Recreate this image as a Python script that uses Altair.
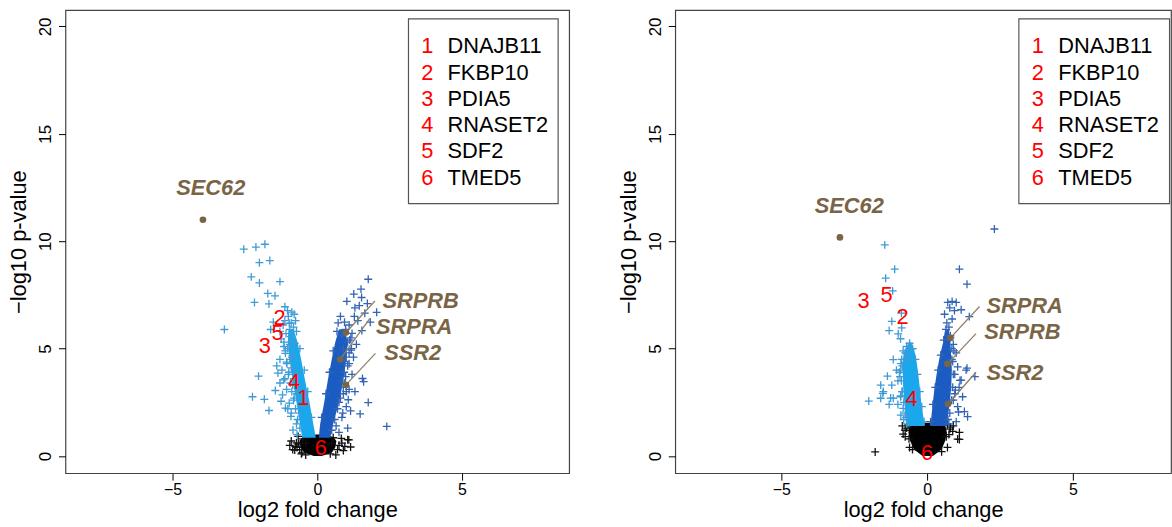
import altair as alt
import pandas as pd

# ------------------------------------------------------------------ data
legend_nums = ["1", "2", "3", "4", "5", "6"]
legend_genes = ["DNAJB11", "FKBP10", "PDIA5", "RNASET2", "SDF2", "TMED5"]

# ---------------- left panel
L_light_x = [-2.54, -2.12, -1.81, -2.0, -1.64, -2.28, -2.0, -1.29, -1.71, -1.46, -2.17, -1.67, -1.12, -1.03,
             -3.21, -1.52, -1.61, -2.03, -2.24, -1.83, -1.67,
             -0.97, -1.29, -0.91, -1.25, -0.78, -1.1, -1.29, -1.06, -0.86, -1.36, -1.16, -1.29, -1.06, -1.2,
             -0.97, -1.1, -0.91, -0.84, -0.72, -1.0, -0.95, -1.15, -0.9, -1.0, -0.85, -0.9, -0.8, -1.02, -0.82,
             -1.12, -0.88, -1.4, -1.45, -1.25, -0.7, -0.75, -0.95,
             -0.6, -0.68, -0.75, -0.82, -0.88, -0.93, -0.98, -1.05, -1.1, -1.15, -1.08, -1.18, -0.62, -0.7,
             -0.8, -0.88, -0.95, -0.9, -1.22, -1.02, -1.12,
             -0.2, -0.33, -0.45, -0.6, -0.72, -0.75, -0.8]
L_light_y = [9.63, 9.73, 9.86, 9.0, 9.1, 8.34, 8.06, 8.12, 7.57, 7.46, 7.15, 7.08, 6.95, 6.77,
             5.89, 6.23, 5.89, 3.72, 2.76, 2.64, 2.12,
             6.18, 5.8, 5.56, 5.45, 5.25, 4.78, 4.5, 4.37, 4.7, 3.86, 3.55, 3.4, 3.1, 2.85,
             2.46, 2.23, 1.85, 1.21, 1.5, 6.5, 5.9, 5.1, 4.1, 3.8, 3.3, 2.0, 2.7, 5.0, 6.0,
             6.3, 6.7, 4.2, 3.05, 2.55, 1.0, 3.9, 4.5,
             1.3, 1.7, 2.2, 2.6, 3.0, 3.4, 3.9, 4.3, 4.9, 5.3, 5.7, 6.1, 2.0, 2.9,
             3.6, 4.6, 5.2, 6.2, 4.0, 2.2, 3.6,
             1.8, 3.0, 4.0, 5.0, 5.8, 6.3, 6.6]
L_dark_x = [1.76, 1.51, 1.26, 1.53, 1.73, 1.45, 2.05, 1.83, 0.94, 1.54, 1.16, 1.64, 1.28, 1.2, 0.9, 1.17,
            1.56, 1.6, 1.76, 1.48, 2.4, 1.05, 1.07, 1.1, 0.93, 1.0, 1.3, 1.1, 0.85, 1.05, 1.1, 0.95, 1.2,
            0.9, 1.0, 0.85, 1.15, 0.75, 1.3, 1.25, 0.98, 1.4, 0.8, 1.02, 1.35,
            0.5, 0.6, 0.7, 0.8, 0.9, 0.98, 1.05, 1.1, 1.12, 0.65, 0.75, 0.85, 0.95, 1.18, 0.88, 1.0,
            0.15, 0.3, 0.42, 0.55, 0.68, 0.72]
L_dark_y = [8.23, 7.77, 7.54, 7.38, 7.1, 7.0, 6.69, 6.23, 6.23, 5.84, 5.5, 6.65, 6.5, 5.71, 5.0, 4.93,
            3.61, 3.46, 2.49, 1.96, 1.38, 1.3, 2.62, 3.1, 3.9, 4.6, 6.9, 6.1, 5.6, 5.3, 4.3, 3.4, 3.8,
            2.9, 2.3, 1.8, 2.1, 1.1, 3.0, 4.6, 5.9, 6.3, 6.5, 7.2, 5.2,
            1.2, 1.7, 2.2, 2.7, 3.2, 3.7, 4.2, 4.8, 5.4, 1.4, 2.5, 3.5, 4.4, 5.0, 2.0, 3.0,
            1.8, 2.9, 3.9, 4.9, 5.8, 6.2]
L_black_x = [-0.65, -0.78, -0.53, 0.83, 1.09, 1.15, 0.64, -0.66, -0.72, -0.61, -0.76, 1.05, -0.9, 0.75,
             -0.4, 0.45, -0.85, 0.9,
             -0.5, 0.55, -0.3, 0.3, -0.7, 0.7, -0.55, 0.5, -0.4, 0.85, 0.95, -0.95]
L_black_y = [0.56, 0.28, 0.15, 0.82, 0.75, 0.42, 0.05, 0.91, 0.61, 0.3, 0.45, 0.76, 0.7, 0.5,
             0.05, 0.1, 0.3, 0.25,
             0.8, 0.85, 0.95, 0.95, 0.4, 0.3, 0.1, 0.6, 0.6, 0.6, 0.45, 0.5]
# dense cores (outline of the solid bands)
L_black_core_y = [0.0, 0.15, 0.4, 0.7, 0.9, 1.0]
L_black_core_l = [-0.12, -0.45, -0.58, -0.62, -0.5, -0.05]
L_black_core_r = [0.15, 0.5, 0.62, 0.66, 0.55, 0.08]
L_light_core_y = [0.85, 1.5, 2.5, 3.5, 4.5, 5.3, 5.9]
L_light_core_l = [-0.52, -0.6, -0.72, -0.85, -0.95, -1.02, -1.0]
L_light_core_r = [-0.05, -0.14, -0.27, -0.42, -0.56, -0.68, -0.82]
L_dark_core_y = [0.85, 1.5, 2.5, 3.5, 4.5, 5.3, 5.9]
L_dark_core_l = [0.05, 0.1, 0.24, 0.36, 0.5, 0.62, 0.75]
L_dark_core_r = [0.45, 0.55, 0.75, 0.9, 1.0, 1.05, 0.95]
# highlighted genes
L_gene_names = ["SEC62", "SRPRB", "SRPRA", "SSR2"]
L_gene_x = [-3.95, 0.99, 0.79, 0.99]
L_gene_y = [11.0, 5.75, 4.5, 3.31]
L_lab_x = [-3.68, 2.25, 2.03, 2.31]
L_lab_y = [12.47, 7.22, 6.0, 4.78]
L_lead_x = [None, 1.99, 1.82, 2.01]
L_lead_y = [None, 7.22, 6.41, 4.78]
# numbered genes (red)
L_num = ["2", "5", "3", "4", "1", "6"]
L_num_x = [-1.3, -1.37, -1.81, -0.8, -0.48, 0.12]
L_num_y = [6.41, 5.71, 5.1, 3.46, 2.7, 0.36]

# ---------------- right panel
R_light_x = [-1.45, -1.11, -1.42, -1.18, -0.88, -1.21, -0.87, -1.3, -0.99, -0.91, -1.16, -1.36, -1.59,
             -1.21, -1.52, -2.0, -1.59, -1.16, -0.91, -0.82, -1.25, -1.5, -0.7, -0.6, -0.5, -0.75, -0.9,
             -0.95, -1.0, -0.85, -1.0, -0.9, -0.8, -1.05, -0.78, -0.65, -1.3,
             -0.7, -0.75, -0.8, -0.86, -0.88, -0.9, -0.87, -0.82, -0.72, -0.9, -0.93, -0.85,
             -0.1, -0.18, -0.25, -0.33, -0.4, -0.5]
R_light_y = [9.83, 8.7, 8.28, 7.69, 6.65, 6.27, 5.97, 5.84, 5.69, 5.46, 4.49, 3.72, 3.3,
             3.3, 2.92, 2.56, 2.69, 2.69, 2.76, 2.22, 2.7, 3.0, 5.1, 5.25, 5.0, 4.8, 4.3,
             3.9, 3.5, 3.0, 2.4, 1.9, 1.7, 4.0, 4.5, 4.6, 2.4,
             1.5, 2.0, 2.5, 3.0, 3.5, 4.0, 4.5, 4.9, 1.8, 2.8, 3.7, 4.2,
             1.6, 2.3, 3.0, 3.8, 4.5, 5.0]
R_dark_x = [2.31, 1.11, 1.37, 0.86, 0.71, 1.0, 1.17, 0.94, 0.86, 1.45, 1.64, 1.37, 1.13, 1.39, 1.08,
            1.05, 1.34, 1.17, 0.97, 1.22, 1.05, 1.28, 0.75, 0.65, 0.8, 0.6, 0.9, 1.0, 0.95, 0.9, 1.0,
            0.68, 0.85, 1.1, 0.78,
            0.75, 0.78, 0.84, 0.88, 0.9, 0.88, 0.85, 0.8, 0.72, 0.95, 0.92,
            0.12, 0.2, 0.28, 0.38, 0.47, 0.57]
R_dark_y = [10.57, 8.7, 8.0, 7.2, 7.15, 7.15, 6.81, 6.77, 6.38, 6.49, 3.7, 4.09, 3.52, 1.83, 2.05,
            4.15, 4.0, 3.53, 3.07, 2.76, 2.3, 2.07, 6.0, 5.9, 5.6, 6.6, 5.2, 4.8, 3.8, 2.6, 1.6,
            6.2, 4.5, 3.2, 6.9,
            1.5, 2.0, 2.6, 3.2, 3.8, 4.4, 5.0, 5.5, 1.7, 2.9, 4.9,
            1.6, 2.4, 3.2, 4.0, 4.7, 5.4]
R_black_x = [-0.82, -1.78, 0.88, 1.11, 1.05, 1.11, -0.7, -0.75, 0.8, 0.7, -0.6, 0.75,
             -0.65, 0.7, -0.75, 0.78, -0.5, 0.5, -0.62, 0.66, -0.4, 0.35, -0.85, 0.9]
R_black_y = [1.02, 0.19, 1.15, 1.1, 0.79, 0.77, 1.3, 0.9, 1.35, 0.4, 0.4, 1.0,
             1.45, 1.45, 1.2, 1.25, 0.3, 0.2, 0.8, 0.9, 1.5, 1.55, 1.4, 1.4]
R_black_core_y = [0.0, 0.3, 0.7, 1.1, 1.45, 1.55]
R_black_core_l = [-0.15, -0.45, -0.58, -0.64, -0.6, -0.08]
R_black_core_r = [0.2, 0.5, 0.62, 0.68, 0.62, 0.1]
R_light_core_y = [1.4, 1.85, 2.5, 3.2, 4.0, 4.6, 5.0, 5.3]
R_light_core_l = [-0.68, -0.72, -0.78, -0.82, -0.84, -0.82, -0.75, -0.62]
R_light_core_r = [-0.08, -0.13, -0.2, -0.25, -0.32, -0.38, -0.45, -0.55]
R_dark_core_y = [1.4, 1.85, 2.5, 3.2, 4.0, 4.6, 5.3, 5.9]
R_dark_core_l = [0.12, 0.15, 0.2, 0.26, 0.35, 0.43, 0.55, 0.62]
R_dark_core_r = [0.7, 0.72, 0.78, 0.83, 0.85, 0.83, 0.8, 0.75]
R_gene_names = ["SEC62", "SRPRA", "SRPRB", "SSR2"]
R_gene_x = [-2.99, 0.8, 0.7, 0.72]
R_gene_y = [10.18, 5.5, 4.29, 2.42]
R_lab_x = [-2.67, 2.04, 1.96, 2.04]
R_lab_y = [11.66, 6.96, 5.75, 3.85]
R_lead_x = [None, 1.8, 1.68, 1.68]
R_lead_y = [None, 6.96, 5.7, 3.9]
R_num = ["3", "5", "2", "4", "6"]
R_num_x = [-2.18, -1.39, -0.84, -0.53, 0.0]
R_num_y = [7.22, 7.5, 6.45, 2.66, 0.12]

# ------------------------------------------------------------------ styling
FONT = "Liberation Sans"
LIGHT_CORE = "#19a8ee"
LIGHT_PLUS = "#3e9bd6"
DARK_CORE = "#1a5cc2"
DARK_PLUS = "#3264b4"
BROWN = "#7a6446"
LEAD = "#8f7f69"
PLUS = "M-1,0L1,0M0,-1L0,1"
Y_DOM = [-0.8, 20.76]


def panel(d, xdom, width):
    xs = alt.Scale(domain=xdom, nice=False, zero=False)
    ys = alt.Scale(domain=Y_DOM, nice=False, zero=False)
    xax = alt.Axis(values=[-5, 0, 5], title="log2 fold change", grid=False, domain=False,
                   tickSize=7, tickColor="black", labelFontSize=16, titleFontSize=22,
                   labelPadding=1, titlePadding=3, labelColor="black", titleColor="black",
                   labelFont=FONT, titleFont=FONT, titleFontWeight="normal", labelFlush=False)
    yax = alt.Axis(values=[0, 5, 10, 15, 20], title="\u2212log10 p-value", grid=False, domain=False,
                   tickSize=7, tickColor="black", labelFontSize=17, titleFontSize=22,
                   labelAngle=270, labelAlign="center", labelBaseline="bottom",
                   labelPadding=4, titlePadding=6, labelColor="black", titleColor="black",
                   labelFont=FONT, titleFont=FONT, titleFontWeight="normal", labelFlush=False)

    def X(f):
        return alt.X(f, type="quantitative", scale=xs, axis=xax)

    def Y(f):
        return alt.Y(f, type="quantitative", scale=ys, axis=yax)

    def core(cy, cl, cr, color):
        df = pd.DataFrame({"y": cy, "xl": cl, "xr": cr})
        return alt.Chart(df).mark_area(orient="horizontal", color=color, opacity=1).encode(
            y=Y("y"), x=X("xl"), x2=alt.X2("xr"))

    def pts(px, py, color):
        df = pd.DataFrame({"x": px, "y": py})
        return alt.Chart(df).mark_point(shape=PLUS, size=64, filled=False, stroke=color,
                                        strokeWidth=1.3, opacity=1).encode(x=X("x"), y=Y("y"))

    genes = pd.DataFrame({"name": d["gene_names"], "x": d["gene_x"], "y": d["gene_y"],
                          "lx": d["lab_x"], "ly": d["lab_y"],
                          "ex": d["lead_x"], "ey": d["lead_y"]})
    leads = alt.Chart(genes).transform_filter("datum.ex != null").mark_rule(
        color=LEAD, strokeWidth=1.3).encode(x=X("x"), y=Y("y"), x2=alt.X2("ex"), y2=alt.Y2("ey"))
    dots = alt.Chart(genes).mark_circle(size=45, color=BROWN, opacity=1).encode(x=X("x"), y=Y("y"))
    sec = alt.Chart(genes).transform_filter("datum.ex == null").mark_text(
        font=FONT, fontSize=22, fontWeight="bold", fontStyle="italic", color=BROWN,
        align="center", baseline="middle").encode(x=X("lx"), y=Y("ly"), text="name:N")
    labs = alt.Chart(genes).transform_filter("datum.ex != null").mark_text(
        font=FONT, fontSize=22, fontWeight="bold", fontStyle="italic", color=BROWN,
        align="left", baseline="middle").encode(x=X("lx"), y=Y("ly"), text="name:N")

    nums = pd.DataFrame({"t": d["num"], "x": d["num_x"], "y": d["num_y"]})
    numt = alt.Chart(nums).mark_text(font=FONT, fontSize=22, color="#ff0000", align="center",
                                     baseline="middle").encode(x=X("x"), y=Y("y"), text="t:N")

    # legend box (placed in data space, top right)
    box = pd.DataFrame({"x1": [3.15], "x2": [8.32], "y1": [11.75], "y2": [20.35]})
    legbox = alt.Chart(box).mark_rect(fill="white", stroke="#555555", strokeWidth=1.2).encode(
        x=X("x1"), x2=alt.X2("x2"), y=Y("y1"), y2=alt.Y2("y2"))
    n = len(legend_nums)
    leg = pd.DataFrame({"num": legend_nums, "gene": legend_genes,
                        "y": [19.07 - 1.222 * i for i in range(n)]})
    legn = alt.Chart(leg).mark_text(font=FONT, fontSize=22, color="#ff0000", align="center",
                                    baseline="middle").encode(x=alt.datum(3.8), y=Y("y"), text="num:N")
    legg = alt.Chart(leg).mark_text(font=FONT, fontSize=22, color="black", align="left",
                                    baseline="middle").encode(x=alt.datum(4.5), y=Y("y"), text="gene:N")

    layers = [
        core(d["black_core_y"], d["black_core_l"], d["black_core_r"], "black"),
        pts(d["black_x"], d["black_y"], "#111111"),
        core(d["light_core_y"], d["light_core_l"], d["light_core_r"], LIGHT_CORE),
        pts(d["light_x"], d["light_y"], LIGHT_PLUS),
        core(d["dark_core_y"], d["dark_core_l"], d["dark_core_r"], DARK_CORE),
        pts(d["dark_x"], d["dark_y"], DARK_PLUS),
        leads, dots, numt, sec, labs, legbox, legn, legg,
    ]
    return alt.layer(*layers).properties(width=width, height=467)


left = panel(dict(light_x=L_light_x, light_y=L_light_y, dark_x=L_dark_x, dark_y=L_dark_y,
                  black_x=L_black_x, black_y=L_black_y,
                  black_core_y=L_black_core_y, black_core_l=L_black_core_l, black_core_r=L_black_core_r,
                  light_core_y=L_light_core_y, light_core_l=L_light_core_l, light_core_r=L_light_core_r,
                  dark_core_y=L_dark_core_y, dark_core_l=L_dark_core_l, dark_core_r=L_dark_core_r,
                  gene_names=L_gene_names, gene_x=L_gene_x, gene_y=L_gene_y,
                  lab_x=L_lab_x, lab_y=L_lab_y, lead_x=L_lead_x, lead_y=L_lead_y,
                  num=L_num, num_x=L_num_x, num_y=L_num_y),
             [-8.7, 8.7], 508)
right = panel(dict(light_x=R_light_x, light_y=R_light_y, dark_x=R_dark_x, dark_y=R_dark_y,
                   black_x=R_black_x, black_y=R_black_y,
                   black_core_y=R_black_core_y, black_core_l=R_black_core_l, black_core_r=R_black_core_r,
                   light_core_y=R_light_core_y, light_core_l=R_light_core_l, light_core_r=R_light_core_r,
                   dark_core_y=R_dark_core_y, dark_core_l=R_dark_core_l, dark_core_r=R_dark_core_r,
                   gene_names=R_gene_names, gene_x=R_gene_x, gene_y=R_gene_y,
                   lab_x=R_lab_x, lab_y=R_lab_y, lead_x=R_lead_x, lead_y=R_lead_y,
                   num=R_num, num_x=R_num_x, num_y=R_num_y),
              [-8.64, 8.37], 500)

chart = alt.hconcat(left, right, spacing=47).configure(
    padding={"left": 7, "top": 7, "right": 0, "bottom": 0}, background="white"
).configure_view(stroke="#444444", strokeWidth=1.2)

chart.save("out.html", embed_options={"renderer": "svg", "actions": False})
